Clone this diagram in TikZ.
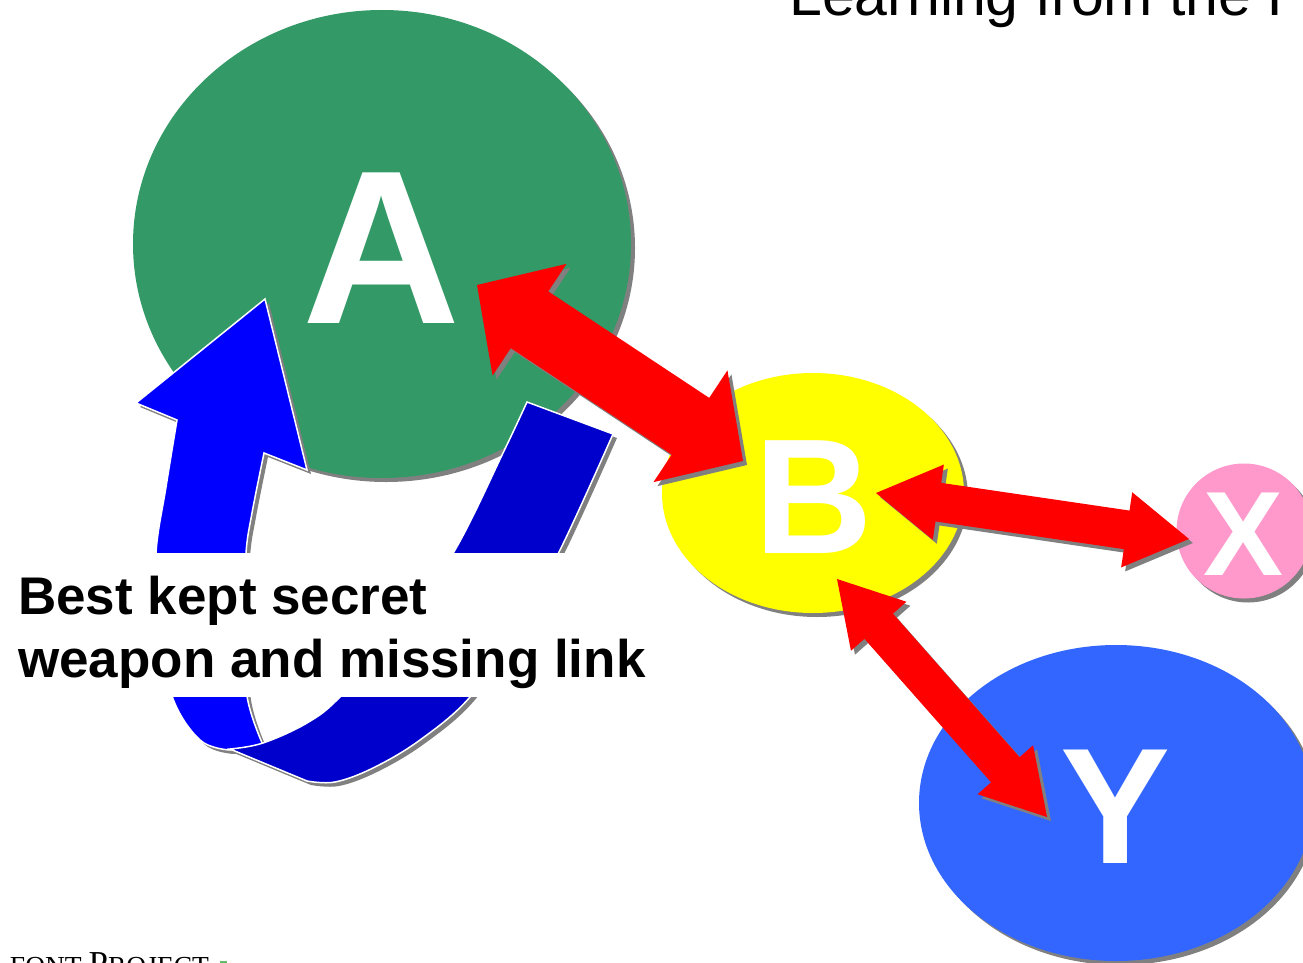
\documentclass[tikz,border=0pt]{standalone}
\usepackage{fontspec}
\setmainfont{Liberation Sans}
\newfontfamily\footserif{Liberation Serif}
\usetikzlibrary{calc,shapes.geometric,shadows}

\definecolor{leafgreen}{HTML}{339966}
\definecolor{sunyellow}{HTML}{FFFF00}
\definecolor{rosepink}{HTML}{FF99CC}
\definecolor{skyblue}{HTML}{3366FF}
\definecolor{brightblue}{HTML}{0000FF}
\definecolor{deepblue}{HTML}{0000CC}
\definecolor{shadegray}{HTML}{808080}
\definecolor{footgreen}{HTML}{66BB66}
\definecolor{arrowred}{HTML}{FF0000}

\newcommand\fsz[1]{\fontsize{#1}{#1}\selectfont}

% double-headed block arrow between two tips:
% #1,#2 tips, #3 head length, #4 head half-width, #5 shaft half-width, #6 style
\newcommand\blockarrow[6]{%
  \fill[#6] (#1)
    -- ($(#1)!#3!(#2)!#4!90:(#2)$)
    -- ($(#1)!#3!(#2)!#5!90:(#2)$)
    -- ($(#2)!#3!(#1)!#5!-90:(#1)$)
    -- ($(#2)!#3!(#1)!#4!-90:(#1)$)
    -- (#2)
    -- ($(#2)!#3!(#1)!#4!90:(#1)$)
    -- ($(#2)!#3!(#1)!#5!90:(#1)$)
    -- ($(#1)!#3!(#2)!#5!-90:(#2)$)
    -- ($(#1)!#3!(#2)!#4!-90:(#2)$)
    -- cycle;}

% the two faces of the curved loop arrow
\newcommand\lightband[1]{%
  \path[#1] (265,299) -- (307,470) -- (264,453)
    -- plot[smooth, tension=0.6] coordinates {(264,453) (252,513) (246,553) (244,620) (247,696) (263,745)}
    -- (230,750)
    -- plot[smooth, tension=0.6] coordinates {(230,750) (200,740) (172,696) (158,620) (156,553) (166,487) (177,420)}
    -- (136,403) -- cycle;}
\newcommand\darkband[1]{%
  \path[#1] (527,402) -- (613,434)
    -- plot[smooth, tension=0.6] coordinates {(613,434) (560,550) (515,630) (470,697) (420,740) (373,768) (335,782) (307,781)}
    -- (230,749)
    -- plot[smooth, tension=0.6] coordinates {(230,749) (263,743) (307,723) (340,697) (400,630) (455,550) (503,453) (527,402)}
    -- cycle;}

\begin{document}
\begin{tikzpicture}[x=1pt, y=-1pt,
  blob/.style={ellipse, inner sep=0pt, outer sep=0pt,
    drop shadow={shadow xshift=4pt, shadow yshift=-4pt, fill=shadegray, opacity=1}},
  letter/.style={text=white, inner sep=0pt, anchor=base, font=\bfseries\fsz{#1}},
  caption/.style={anchor=base west, inner sep=0pt, font=\bfseries\fsz{53}},
  bandedge/.style={draw=white, line width=1.5pt, line join=miter},
  shadowshift/.style={transform canvas={shift={(4pt,-4pt)}}},
]
\useasboundingbox (0,0) rectangle (1303,963);
\clip (0,0) rectangle (1303,963);

% title
\node[anchor=base west, inner sep=0pt, font=\fsz{59}] (title) at (789,16) {Learning from the Past};

% circles
\node[blob, fill=leafgreen, minimum width=498pt, minimum height=468pt] (A) at (382,244) {};
\node[letter=219] (Alabel) at (381.5,323) {A};
\node[blob, fill=sunyellow, minimum width=302pt, minimum height=240pt] (B) at (813,493) {};
\node[letter=164] (Blabel) at (814,553) {B};
\node[blob, fill=rosepink, minimum width=135pt, minimum height=135pt] (X) at (1244,531) {};
\node[letter=120] (Xlabel) at (1244,575) {X};
\node[blob, fill=skyblue, minimum width=394pt, minimum height=316pt] (Y) at (1116,803) {};
\node[letter=165] (Ylabel) at (1116,863) {Y};

% loop arrow
\begin{scope}[shadowshift]
  \lightband{fill=shadegray}
\end{scope}
\lightband{fill=brightblue, bandedge}
\begin{scope}[shadowshift]
  \darkband{fill=shadegray}
\end{scope}
\darkband{fill=deepblue, bandedge}

% caption on its white panel
\node[fill=white, inner sep=0pt, minimum width=645pt, minimum height=144pt, anchor=north west] (capbox) at (10,553) {};
\node[caption] (cap1) at (18,614) {Best kept secret};
\node[caption] (cap2) at (18,677) {weapon and missing link};

% red links
\coordinate (ab1) at (477,285);  \coordinate (ab2) at (743,461);
\coordinate (bx1) at (876,493);  \coordinate (bx2) at (1189,539);
\coordinate (by1) at (837,579);  \coordinate (by2) at (1047,817);
\begin{scope}[shadowshift]
  \blockarrow{ab1}{ab2}{63pt}{67pt}{34pt}{shadegray}
  \blockarrow{bx1}{bx2}{63pt}{38pt}{19.5pt}{shadegray}
  \blockarrow{by1}{by2}{63pt}{37pt}{19pt}{shadegray}
\end{scope}
\blockarrow{ab1}{ab2}{63pt}{67pt}{34pt}{arrowred}
\blockarrow{bx1}{bx2}{63pt}{38pt}{19.5pt}{arrowred}
\blockarrow{by1}{by2}{63pt}{37pt}{19pt}{arrowred}

% footer
\node[anchor=base west, inner sep=0pt, font=\footserif] (footer) at (-9,975)
  {\fsz{27.5}L\hspace{2pt}FONT \fsz{35}P\fsz{27.5}ROJECT};
\fill[footgreen] (220,961) rectangle (227,963);
\end{tikzpicture}
\end{document}
